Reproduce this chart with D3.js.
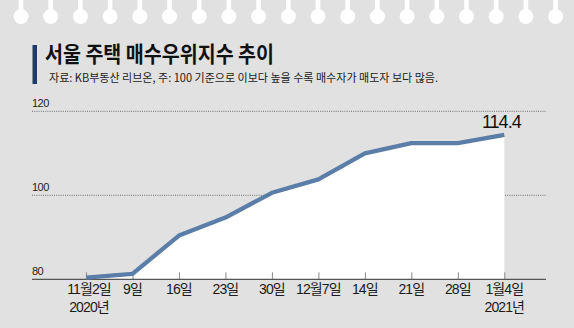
<!DOCTYPE html>
<html>
<head>
<meta charset="utf-8">
<script src="https://cdnjs.cloudflare.com/ajax/libs/d3/7.8.5/d3.min.js"></script>
<style>
  html, body { margin: 0; padding: 0; background: #e1e1e1; }
  svg { display: block; }
  text { font-family: "Noto Sans CJK KR", "Noto Sans", sans-serif; }
  .num { font-family: "Liberation Sans", "Noto Sans CJK KR", sans-serif; }
</style>
</head>
<body>
<svg id="chart" width="574" height="328"></svg>
<script>
// Weekly Seoul housing buyer-advantage index (KB)
const categories = ["11월2일", "9일", "16일", "23일", "30일", "12월7일", "14일", "21일", "28일", "1월4일"];
const yearLabels = ["2020년", "", "", "", "", "", "", "", "", "2021년"];
const values = [80.4, 81.3, 90.4, 94.7, 100.6, 103.8, 110.0, 112.4, 112.4, 114.4];
const yTicks = [80, 100, 120];
const titleText = "서울 주택 매수우위지수 추이";
const sourceText = "자료: KB부동산 리브온, 주: 100 기준으로 이보다 높을 수록 매수자가 매도자 보다 많음.";

const W = 574, H = 328;
const svg = d3.select("#chart");

svg.append("rect").attr("width", W).attr("height", H).attr("fill", "#e1e1e1");

// notebook binding holes along the top edge
const holes = svg.append("g").attr("fill", "#ffffff");
for (let i = 0; i < 19; i++) {
  const cx = 21 + i * 29.7;
  holes.append("rect").attr("x", cx - 2.3).attr("y", 0).attr("width", 4.6).attr("height", 14);
  holes.append("circle").attr("cx", cx).attr("cy", 16.5).attr("r", 7.5);
}

// title block
svg.append("rect").attr("x", 32.5).attr("y", 45).attr("width", 4.5).attr("height", 39).attr("fill", "#1f3a6b");
svg.append("text").attr("x", 45).attr("y", 62).attr("font-size", 21.5).attr("font-weight", 700)
  .attr("fill", "#111").attr("textLength", 229).attr("lengthAdjust", "spacingAndGlyphs").text(titleText);
svg.append("text").attr("x", 49).attr("y", 82).attr("font-size", 11.5)
  .attr("fill", "#222").attr("textLength", 389).attr("lengthAdjust", "spacingAndGlyphs").text(sourceText);

// scales
const x = d3.scalePoint().domain(categories).range([86, 504.3]);
const y = d3.scaleLinear().domain([80, 120]).range([279.3, 111.3]);
const x0 = 32, x1 = 546;

// dotted gridlines + y labels
const grid = svg.append("g");
yTicks.filter(t => t > 80).forEach(t => {
  grid.append("line").attr("x1", x0).attr("x2", x1).attr("y1", y(t)).attr("y2", y(t))
    .attr("stroke", "#6f6f6f").attr("stroke-width", 1).attr("stroke-dasharray", "1,1.2");
});
yTicks.forEach(t => {
  grid.append("text").attr("class", "num").attr("x", x0).attr("y", y(t) - 4.5).attr("font-size", 11)
    .attr("letter-spacing", -0.5).attr("fill", "#222").text(t);
});

// area under the line
const pts = categories.map((c, i) => ({ c, v: values[i] }));
const area = d3.area().x(d => x(d.c)).y0(y(80)).y1(d => y(d.v));
svg.append("path").datum(pts).attr("d", area).attr("fill", "#ffffff");

// bottom axis with upward ticks
const axis = d3.axisBottom(x).tickSize(-7).tickFormat("");
const ax = svg.append("g").attr("transform", `translate(0,${y(80)})`).call(axis);
ax.select(".domain").remove();
ax.selectAll(".tick line").attr("stroke", "#8a8a8a").attr("stroke-width", 1);
svg.append("line").attr("x1", x0).attr("x2", x1).attr("y1", y(80)).attr("y2", y(80))
  .attr("stroke", "#555").attr("stroke-width", 1.3);

// category labels
const lab = svg.append("g").attr("class", "num").attr("font-size", 14).attr("fill", "#1a1a1a")
  .attr("text-anchor", "middle").attr("letter-spacing", -0.9);
categories.forEach((c, i) => {
  const cx = x(c) + (i === 0 ? 3 : 0);
  lab.append("text").attr("class", "num").attr("x", cx).attr("y", 294).text(c);
  if (yearLabels[i]) lab.append("text").attr("class", "num").attr("x", cx).attr("y", 311.5).text(yearLabels[i]);
});

// index line
const line = d3.line().x(d => x(d.c)).y(d => y(d.v));
svg.append("path").datum(pts).attr("d", line).attr("fill", "none")
  .attr("stroke", "#5a7ea8").attr("stroke-width", 4.3).attr("stroke-linejoin", "round");

// value callout at the latest point
const last = pts[pts.length - 1];
svg.append("text").attr("class", "num").attr("x", x(last.c) - 3).attr("y", y(last.v) - 6.5)
  .attr("text-anchor", "middle").attr("font-size", 18).attr("letter-spacing", -1)
  .attr("fill", "#111").text(last.v.toFixed(1));
</script>
</body>
</html>
